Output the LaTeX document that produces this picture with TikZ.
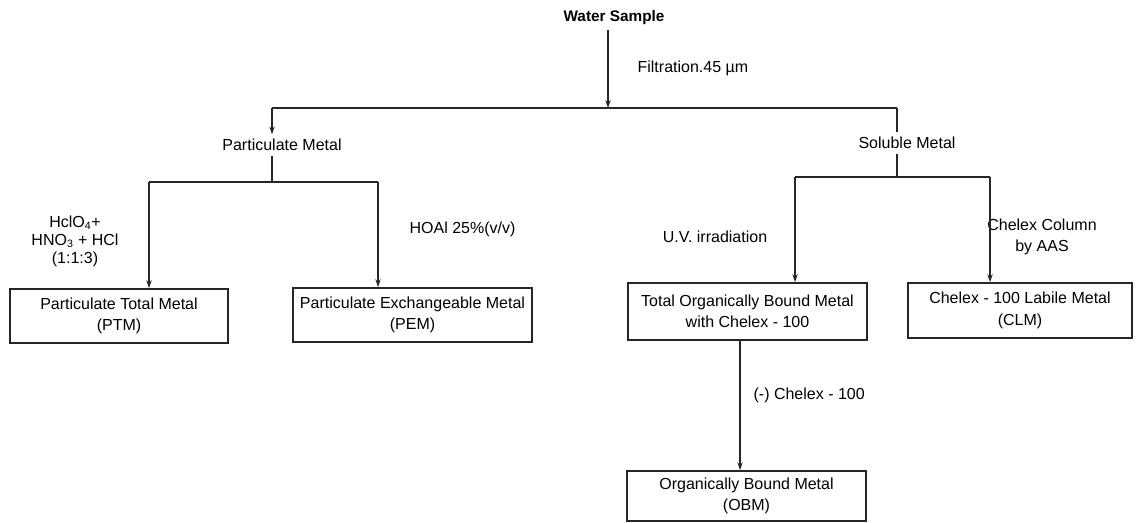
\documentclass[tikz,border=0pt]{standalone}
\usepackage{fontspec}
\setsansfont{Liberation Sans}
\usetikzlibrary{positioning, arrows.meta}

\begin{document}
\begin{tikzpicture}[
        x=0.75pt, y=-0.75pt,
        font=\sffamily\fontsize{12}{16}\selectfont,
        % Styles
        block/.style={draw=black!85, line width=1.2pt, inner sep=0pt, align=center, minimum width=#1, minimum height=40.5pt},
        block/.default=179.25pt,
        step_text/.style={align=center, inner sep=1pt},
        link/.style={line width=1.2pt, draw=black!85},
        arrow/.style={link, -{Stealth[length=6pt, width=4pt]}}
    ]
    \useasboundingbox (0,0) rectangle (1137,522);

    % Source and first split
    \node[font=\sffamily\bfseries\fontsize{11.5}{14}\selectfont] (water) at (614,18) {Water Sample};
    \node[step_text, anchor=west] (filt) at (636,68) {Filtration.45 µm};
    \node (partm) at (282,145) {Particulate Metal};
    \node (solm) at (907,143) {Soluble Metal};

    \coordinate (split) at (608,108);
    \coordinate (splitL) at (272,108);
    \coordinate (splitR) at (897,108);
    \draw[arrow] (split |- water.south) -- (split);
    \draw[link] (splitL) -- (splitR);
    \draw[arrow] (splitL) -- (splitL |- partm.north);
    \draw[link] (splitR) -- (splitR |- solm.north);

    % Particulate branch
    \node[block=163.5pt] (ptm) at (119,316) {Particulate Total Metal\\(PTM)};
    \node[block] (pem) at (412.5,315) {Particulate Exchangeable Metal\\(PEM)};
    \node[step_text, font=\sffamily\fontsize{12}{13.5}\selectfont] (acid) at (75,241) {HclO\textsubscript{4}+\\HNO\textsubscript{3} + HCl\\(1:1:3)};
    \node[step_text, anchor=west] (hoal) at (408,229) {HOAl 25\%(v/v)};

    \coordinate (pfork) at (272,182);
    \coordinate (pforkL) at (149,182);
    \coordinate (pforkR) at (378,182);
    \draw[link] (pfork |- partm.south) -- (pfork);
    \draw[link] (pforkL) -- (pforkR);
    \draw[arrow] (pforkL) -- (pforkL |- ptm.north);
    \draw[arrow] (pforkR) -- (pforkR |- pem.north);

    % Soluble branch
    \node[block, minimum height=42.75pt] (tobm) at (747.5,311.5) {Total Organically Bound Metal\\with Chelex - 100};
    \node[block=168pt, minimum height=41.25pt] (clm) at (1020,310.5) {Chelex - 100 Labile Metal\\(CLM)};
    \node[step_text] (uv) at (715,237) {U.V. irradiation};
    \node[step_text] (chel) at (1042,237) {Chelex Column\\by AAS};

    \coordinate (sfork) at (897,177);
    \coordinate (sforkL) at (795,177);
    \coordinate (sforkR) at (990,177);
    \draw[link] (sfork |- solm.south) -- (sfork);
    \draw[link] (sforkL) -- (sforkR);
    \draw[arrow] (sforkL) -- (sforkL |- tobm.north);
    \draw[arrow] (sforkR) -- (sforkR |- clm.north);

    % Organically bound
    \node[block, minimum height=37.5pt] (obm) at (746.5,496) {Organically Bound Metal\\(OBM)};
    \node[step_text, anchor=west] (minus) at (752,395) {(-) Chelex - 100};
    \draw[arrow] ([xshift=-5.6pt]tobm.south) -- ([xshift=-5.6pt]tobm.south |- obm.north);

\end{tikzpicture}
\end{document}
